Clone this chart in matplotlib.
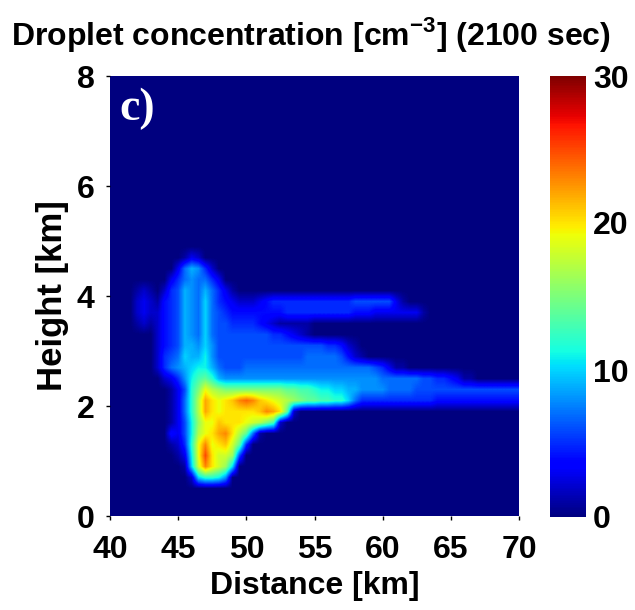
import numpy as np
import matplotlib
matplotlib.use('Agg')
import matplotlib.pyplot as plt

plt.rcParams['font.family'] = ['Liberation Sans', 'DejaVu Sans']
plt.rcParams['mathtext.fontset'] = 'custom'
plt.rcParams['mathtext.bf'] = 'Liberation Sans:bold'

# Droplet concentration, one list per height (km).
# Every list starts at 42 km and goes on in 0.5 km steps, zeros after the end are left out.
h_47 = [0,0,0,0, 0,0,0,1, 3,2]
h_45 = [0,0,0,0, 0,0,3,7, 9,8,5,2]
h_43 = [0,0,0,0, 0,3,5,7, 8,7,7,5, 3]
h_41 = [1,2,1,0, 2,5,6,9, 8,7,9,7, 5,3,1]
h_39 = [2,3,2,1, 4,5,6,9, 8,7,10,7, 5,4,3,2, 2,2,3,4, 5,5,5,5, 5,5,5,5, 5,5,5,5, 6,6,6,6, 6,6,3,1]
h_37 = [2,3,2,2, 4,5,6,9, 8,7,10,7, 6,5,4,4, 4,4,4,4, 4,4,5,5, 5,5,5,5, 5,5,5,5, 4,4,4,3, 3,3,3,3, 3,3,1,0]
h_35 = [1,2,1,2, 4,5,6,9, 8,7,10,7, 6,6,5,5, 5,5,4,3, 2,1,1,1, 1,1,0,0]
h_33 = [0,0,0,2, 4,5,6,9, 8,7,10,7, 6,6,6,6, 6,6,6,6, 5,5,4,3, 2,1]
h_31 = [0,0,0,2, 4,5,6,9, 9,8,10,8, 6,6,6,6, 6,6,6,6, 6,6,6,6, 6,6,6,6, 5,5,4,2, 1]
h_29 = [0,0,0,2, 5,6,7,10, 9,9,11,8, 6,6,6,6, 6,6,6,6, 6,6,6,6, 6,7,7,7, 7,7,6,4, 2,1]
h_27 = [0,0,0,2, 5,7,8,9, 10,11,11,9, 7,6,6,6, 7,7,7,7, 7,7,7,7, 7,7,7,7, 7,7,7,7, 7,7,7,6, 5,3,1,1]
h_25 = [0,0,0,0, 2,3,5,8, 11,13,14,12, 9,8,8,8, 8,8,8,8, 8,8,8,8, 8,8,8,8, 8,8,8,8, 8,8,8,8, 7,7,7,7, 7,7,6,6, 5,5,4,3, 1,1]
h_23 = [0,0,0,0, 0,1,3,6, 12,15,19,17, 16,15,15,15, 15,15,15,15, 15,15,14,14, 13,13,12,11, 11,10,10,9, 9,8,8,8, 8,7,7,7, 7,6,6,6, 6,6,6,6, 6,6,6,6, 6,6,6,6, 6]
h_21 = [0,0,0,0, 0,1,3,7, 12,17,22,20, 19,20,21,23, 24,23,21,20, 19,18,17,16, 15,14,14,13, 13,12,12,10, 7,5,5,5, 5,5,5,5, 5,5,5,5, 4,4,4,4, 4,4,4,4, 4,4,4,4, 4]
h_19 = [0,0,0,0, 0,1,3,7, 12,17,22,20, 19,20,20,20, 20,20,21,23, 22,20,14,2]
h_17 = [0,0,0,0, 0,1,3,6, 11,16,19,19, 21,20,20,20, 19,18,17,15, 13,2]
h_15 = [0,0,0,0, 0,4,3,6, 11,17,19,20, 22,23,20,17, 14,7,1]
h_13 = [0,0,0,0, 0,1,2,5, 12,19,23,19, 20,21,18,14, 5]
h_11 = [0,0,0,0, 0,0,1,3, 11,19,25,20, 18,18,16,6]
h_09 = [0,0,0,0, 0,0,0,1, 10,18,23,20, 18,16,10]
h_07 = [0,0,0,0, 0,0,0,0, 2,10,12,12, 11,8]

rows = [h_07, h_09, h_11, h_13, h_15, h_17, h_19, h_21, h_23, h_25, h_27,
        h_29, h_31, h_33, h_35, h_37, h_39, h_41, h_43, h_45, h_47]

distance = np.arange(40, 70.5, 0.5)
height = np.arange(0.1, 8.0, 0.2)

x_ticks = [40, 45, 50, 55, 60, 65, 70]
y_ticks = [0, 2, 4, 6, 8]
cbar_ticks = [0, 10, 20, 30]

field = np.zeros((len(height), len(distance)))
for i, row in enumerate(rows):
    field[i + 3, 4:4 + len(row)] = row

W, H = 635, 610
fig = plt.figure(figsize=(W / 100, H / 100), dpi=100)
ax = fig.add_axes([110 / W, 1 - 516 / H, 409 / W, 440 / H])
dx, dy = distance[1] - distance[0], height[1] - height[0]
im = ax.imshow(field, origin='lower', aspect='auto', cmap='jet', vmin=0, vmax=30,
               interpolation='bilinear',
               extent=[distance[0] - dx / 2, distance[-1] + dx / 2, height[0] - dy / 2, height[-1] + dy / 2])
ax.set_xlim(40, 70)
ax.set_ylim(0, 8)
ax.set_xticks(x_ticks)
ax.set_yticks(y_ticks)
ax.tick_params(axis='x', labelsize=23, length=3, width=1, pad=11)
ax.tick_params(axis='y', labelsize=23, length=3, width=1, pad=8)
for lab in ax.get_xticklabels() + ax.get_yticklabels():
    lab.set_fontweight('bold')
for sp in ax.spines.values():
    sp.set_visible(False)
ax.set_xlabel('Distance [km]', fontsize=23, fontweight='bold', labelpad=4)
ax.set_ylabel('Height [km]', fontsize=25, fontweight='bold', labelpad=6)
ax.text(0.022, 0.925, 'c)', transform=ax.transAxes, color='white', fontsize=33,
        fontweight='bold', family='Liberation Serif', va='center')

cax = fig.add_axes([550 / W, 1 - 517 / H, 36 / W, 441 / H])
cb = fig.colorbar(im, cax=cax)
cb.set_ticks(cbar_ticks)
cb.outline.set_visible(False)
cax.tick_params(labelsize=23, length=0, pad=5)
for lab in cax.get_yticklabels():
    lab.set_fontweight('bold')

fig.text(311 / W, 1 - 34 / H, r'Droplet concentration [cm$^{\mathbf{-3}}$] (2100 sec)',
         fontsize=23, fontweight='bold', ha='center', va='center')

fig.savefig('out.png', dpi=100)
